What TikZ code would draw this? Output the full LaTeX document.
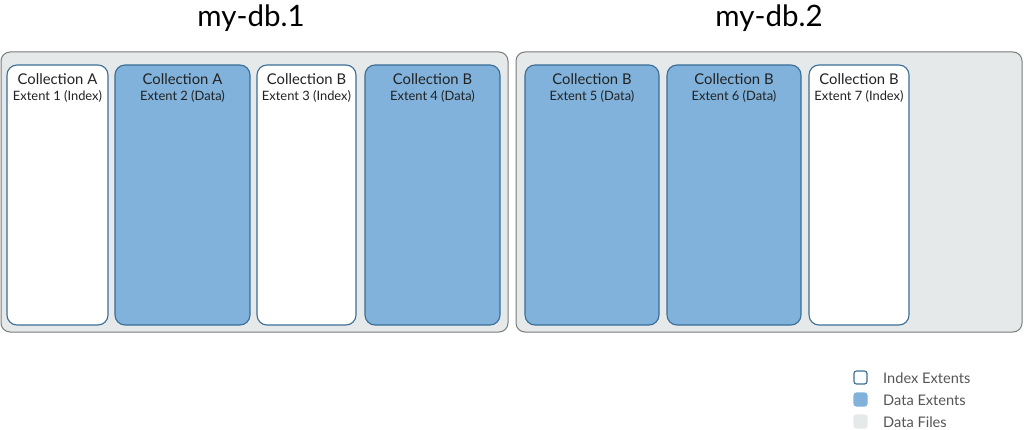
\documentclass[tikz,border=0pt]{standalone}
\usepackage{fontspec}
\setmainfont{Lato}
\definecolor{filefill}{HTML}{E6E9EA}
\definecolor{fileedge}{HTML}{7A7A7A}
\definecolor{extedge}{HTML}{3A6E96}
\definecolor{datafill}{HTML}{80B2DB}
\definecolor{txt}{HTML}{222222}
\definecolor{legtxt}{HTML}{555555}
\tikzset{
  filebox/.style={draw=fileedge, fill=filefill, line width=1pt, rounded corners=9pt},
  idxbox/.style={draw=extedge, fill=white, line width=1.1pt, rounded corners=10pt},
  databox/.style={draw=extedge, fill=datafill, line width=1.1pt, rounded corners=10pt},
  colltext/.style={text=txt, inner sep=0pt, font=\fontsize{14.8}{17}\selectfont},
  exttext/.style={text=txt, inner sep=0pt, font=\fontsize{12.9}{15}\selectfont},
  title/.style={text=black, inner sep=0pt, font=\fontsize{29.5}{33}\selectfont},
  legsq/.style={line width=1.1pt, rounded corners=2.5pt, minimum size=13pt, inner sep=0pt},
  legtext/.style={anchor=west, text=legtxt, inner sep=0pt, font=\fontsize{14.6}{17}\selectfont},
}
\begin{document}
\begin{tikzpicture}[x=1pt,y=-1pt]
\useasboundingbox (0,0) rectangle (1024,430);
% data files
\draw[filebox] (1,52) rectangle (508,332);
\draw[filebox] (516,52) rectangle (1022,332);
\node[title] (t1) at (251,18) {my-db.1};
\node[title] (t2) at (769,18) {my-db.2};
% extents
\draw[idxbox]  (7,65)   rectangle (108,325);
\draw[databox] (115,65) rectangle (250,325);
\draw[idxbox]  (257,65) rectangle (356,325);
\draw[databox] (365,65) rectangle (500,325);
\draw[databox] (525,65) rectangle (659,325);
\draw[databox] (667,65) rectangle (801,325);
\draw[idxbox]  (809,65) rectangle (909,325);
\foreach \n/\x/\c/\k in {1/57.5/A/Index, 2/182.5/A/Data, 3/306.5/B/Index, 4/432.5/B/Data, 5/592/B/Data, 6/734/B/Data, 7/859/B/Index}{
  \node[colltext] (c\n) at (\x,79) {Collection \c};
  \node[exttext]  (e\n) at (\x,96.5) {Extent \n\ (\k)};
}
% legend
\node[legsq, draw=extedge, fill=white] (l1) at (860.5,377.5) {};
\node[legsq, draw=datafill, fill=datafill] (l2) at (860.5,399.5) {};
\node[legsq, draw=filefill, fill=filefill] (l3) at (860.5,421.5) {};
\node[legtext] (lt1) at (883,378) {Index Extents};
\node[legtext] (lt2) at (883,400) {Data Extents};
\node[legtext] (lt3) at (883,422) {Data Files};
\end{tikzpicture}
\end{document}
